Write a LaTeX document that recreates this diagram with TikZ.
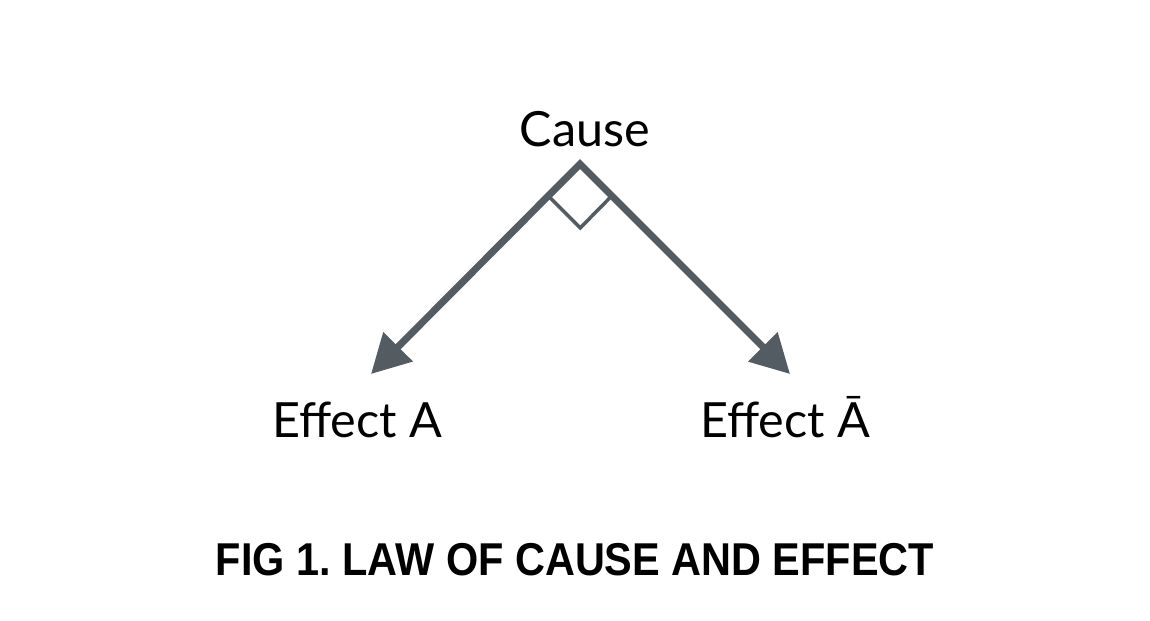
\documentclass[tikz,border=0pt]{standalone}
\usepackage{fontspec}
\setmainfont{Lato}
\newfontfamily\capfont[FakeStretch=0.9]{Liberation Sans}
\usetikzlibrary{arrows.meta,calc}
\definecolor{slate}{RGB}{84,92,99}

\begin{document}
\begin{tikzpicture}[>={Triangle[length=0.385cm,width=0.40cm]},
        lbl/.style={font=\fontsize{13.8}{16}\selectfont,anchor=base,inner sep=0pt},
        member/.style={draw=slate,line width=2pt,line join=miter}]

        % Frame of the figure
        \useasboundingbox (0,0) rectangle (11.5,6.2);

        % Labels
        \node[lbl] (cause) at (5.85,4.74) {Cause};
        \node[lbl] (effA) at (3.57,1.83) {Effect A};
        \node[lbl] (effB) at (7.85,1.83) {Effect Ā};

        % Apex and the two arrow tips
        \coordinate (apex) at (5.80,4.56);
        \coordinate (tipA) at (3.71,2.46);
        \coordinate (tipB) at (7.90,2.46);

        % Two arrows out of one point
        \draw[member,<->] (tipA) -- (apex) -- (tipB);

        % Right angle mark
        \draw[slate,line width=1pt] ($(apex)!0.45cm!(tipA)$) -- ++(0.32,-0.32) -- ($(apex)!0.45cm!(tipB)$);

        % Caption
        \node[anchor=base,inner sep=0pt,font=\capfont\bfseries\fontsize{13.1}{16}\selectfont] (title) at (5.75,0.45) {FIG 1.\ LAW OF CAUSE AND EFFECT};
\end{tikzpicture}
\end{document}
